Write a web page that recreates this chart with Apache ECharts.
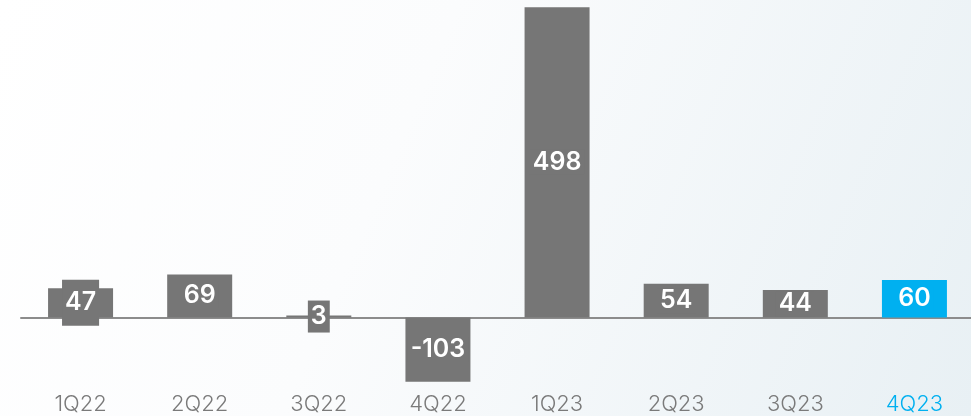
<!DOCTYPE html>
<html><head><meta charset="utf-8">
<script src="https://cdn.jsdelivr.net/npm/echarts@6/dist/echarts.min.js"></script>
<style>html,body{margin:0;padding:0;}#c{width:971px;height:416px;}</style>
</head><body><div id="c"></div>
<script>
const categories = ['1Q22','2Q22','3Q22','4Q22','1Q23','2Q23','3Q23','4Q23'];
const values = [47, 69, 3, -103, 498, 54, 44, 60];
const highlightIndex = 7;

const GRAY = '#767676', BLUE = '#00b0f0';
const chart = echarts.init(document.getElementById('c'));
const data = values.map((v, i) => {
  const c = i === highlightIndex ? BLUE : GRAY;
  const lbl = { backgroundColor: c };
  if (i === 0) lbl.padding = [12, 3, 9, 3];
  if (i === 2) lbl.padding = [4, 3, 3, 3];
  return { value: v, itemStyle: { color: c }, label: lbl };
});
chart.setOption({
  backgroundColor: new echarts.graphic.LinearGradient(0, 0, 1, 1, [
    { offset: 0, color: '#ffffff' }, { offset: 0.4, color: '#fbfcfd' }, { offset: 1, color: '#e8f0f4' }
  ]),
  animation: false,
  grid: { left: 21, right: -3, top: 6, bottom: 30, outerBoundsMode: 'none', containLabel: false },
  xAxis: [{
    type: 'category', data: categories,
    axisLine: { onZero: true, lineStyle: { color: '#8c8c8c', width: 2 } },
    axisTick: { show: false },
    axisLabel: { show: false }
  }, {
    type: 'category', data: categories, position: 'bottom',
    axisLine: { show: false, onZero: false },
    axisTick: { show: false },
    axisLabel: {
      margin: 7, fontFamily: 'Inter', fontSize: 22, fontWeight: 300,
      color: (val, idx) => idx === highlightIndex ? BLUE : '#7a7a7a'
    }
  }],
  yAxis: { type: 'value', min: -110, max: 500, show: false, splitLine: { show: false } },
  series: [{
    type: 'bar', data: data, barWidth: 65, xAxisIndex: 0,
    label: {
      show: true, position: 'inside', color: '#ffffff',
      fontFamily: 'Inter', fontSize: 25, fontWeight: 600,
      padding: [0, 3]
    }
  }]
});
</script></body></html>
